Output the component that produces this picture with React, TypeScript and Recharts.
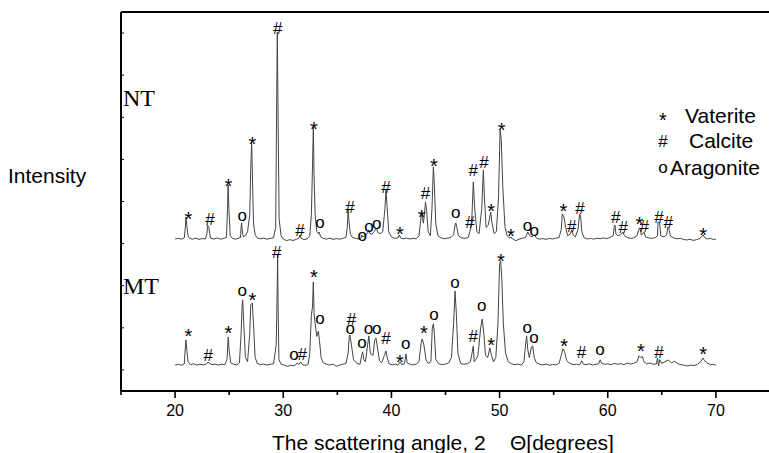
import React from 'react';
import { ComposedChart, Line, Scatter, XAxis, YAxis, ReferenceLine } from 'recharts';

// Relative intensity (arbitrary units) vs scattering angle 2θ (degrees)
const NT_POINTS: [number, number][] = [
  [20.0, 5], [20.3, 8], [20.6, 4], [20.85, 10], [20.95, 60], [21.0, 109], [21.08, 70], [21.2, 20], [21.35, 8], [21.6, 4],
  [21.9, 9], [22.2, 3], [22.5, 7], [22.8, 5], [22.95, 30], [23.0, 71], [23.12, 65], [23.2, 30], [23.3, 8], [23.6, 5],
  [23.9, 10], [24.2, 4], [24.5, 8], [24.75, 12], [24.85, 150], [24.9, 261], [24.98, 140], [25.1, 20], [25.3, 8], [25.6, 4],
  [25.9, 10], [26.05, 12], [26.1, 60], [26.15, 81], [26.2, 50], [26.3, 15], [26.5, 20], [26.7, 40], [26.9, 120], [27.0, 350],
  [27.08, 466], [27.15, 300], [27.25, 80], [27.4, 25], [27.6, 10], [27.9, 6], [28.2, 9], [28.5, 4], [28.8, 8], [29.1, 10],
  [29.3, 60], [29.4, 700], [29.45, 988], [29.52, 600], [29.62, 100], [29.8, 20], [30.0, 5], [30.3, -3], [30.6, 2], [30.9, -2],
  [31.2, 3], [31.45, 10], [31.55, 24], [31.65, 8], [31.9, 2], [32.2, 5], [32.45, 20], [32.6, 120], [32.72, 380], [32.78, 537],
  [32.85, 300], [32.95, 120], [33.1, 40], [33.25, 30], [33.33, 38], [33.45, 15], [33.7, 8], [34.0, 4], [34.3, 9], [34.6, 3],
  [34.9, 7], [35.2, 4], [35.5, 8], [35.8, 12], [35.92, 60], [36.0, 143], [36.08, 90], [36.2, 30], [36.4, 12], [36.7, 8],
  [37.0, 5], [37.2, 10], [37.25, 24], [37.35, 15], [37.6, 20], [37.8, 35], [37.9, 48], [38.0, 30], [38.2, 28], [38.4, 40],
  [38.6, 57], [38.75, 35], [38.95, 30], [39.2, 40], [39.4, 150], [39.5, 238], [39.6, 160], [39.75, 40], [40.0, 15], [40.3, 8],
  [40.6, 10], [40.73, 24], [40.85, 10], [41.1, 6], [41.4, 9], [41.7, 5], [42.0, 8], [42.3, 6], [42.55, 20], [42.7, 90],
  [42.8, 133], [42.95, 80], [43.05, 120], [43.15, 181], [43.25, 140], [43.4, 40], [43.6, 20], [43.75, 150], [43.88, 347], [43.98, 250],
  [44.1, 80], [44.3, 20], [44.6, 10], [44.9, 6], [45.2, 9], [45.5, 12], [45.75, 25], [45.88, 70], [45.95, 81], [46.05, 60],
  [46.2, 20], [46.5, 10], [46.8, 8], [47.1, 12], [47.25, 40], [47.33, 57], [47.45, 120], [47.57, 276], [47.7, 150], [47.9, 40],
  [48.1, 30], [48.35, 150], [48.5, 333], [48.6, 200], [48.75, 60], [48.95, 70], [49.18, 133], [49.3, 80], [49.5, 30], [49.7, 40],
  [49.9, 200], [50.05, 523], [50.15, 480], [50.3, 250], [50.5, 60], [50.7, 20], [50.9, 10], [51.05, 14], [51.2, 5], [51.5, -3],
  [51.8, 4], [52.1, 8], [52.4, 12], [52.6, 38], [52.8, 20], [53.0, 15], [53.2, 24], [53.4, 10], [53.7, 4], [54.0, 7],
  [54.3, 3], [54.6, 8], [54.9, 5], [55.2, 9], [55.5, 12], [55.7, 50], [55.8, 124], [55.95, 110], [56.1, 60], [56.3, 20],
  [56.55, 30], [56.66, 48], [56.8, 25], [57.0, 15], [57.25, 50], [57.4, 124], [57.5, 110], [57.6, 40], [57.8, 12], [58.1, 5],
  [58.4, 8], [58.7, 4], [59.0, 9], [59.3, 6], [59.6, 10], [59.9, 7], [60.2, 12], [60.5, 20], [60.6, 65], [60.67, 71],
  [60.75, 30], [60.95, 20], [61.2, 25], [61.4, 38], [61.55, 20], [61.8, 12], [62.1, 8], [62.4, 10], [62.7, 20], [62.9, 55],
  [62.98, 57], [63.1, 25], [63.25, 30], [63.35, 38], [63.5, 15], [63.8, 10], [64.1, 8], [64.4, 12], [64.6, 20], [64.65, 86],
  [64.8, 80], [64.9, 20], [65.2, 15], [65.45, 25], [65.55, 62], [65.65, 55], [65.8, 18], [66.1, 10], [66.4, 6], [66.7, 8],
  [67.0, 3], [67.3, 0], [67.6, 4], [67.9, -2], [68.2, 2], [68.5, 6], [68.7, 18], [68.83, 24], [68.95, 12], [69.2, 5],
  [69.5, 8], [69.8, 2], [70.0, 5],
];

const MT_POINTS: [number, number][] = [
  [20.0, 4], [20.3, 8], [20.6, 3], [20.85, 10], [20.95, 90], [21.0, 124], [21.08, 80], [21.2, 20], [21.4, 6], [21.7, 10],
  [22.0, 4], [22.3, 8], [22.6, 5], [22.9, 10], [23.05, 19], [23.15, 12], [23.4, 6], [23.7, 9], [24.0, 4], [24.3, 8],
  [24.6, 6], [24.8, 30], [24.88, 110], [24.92, 138], [25.0, 70], [25.15, 15], [25.4, 8], [25.7, 4], [25.95, 15], [26.1, 150],
  [26.2, 290], [26.25, 314], [26.35, 200], [26.5, 40], [26.7, 20], [26.9, 150], [27.0, 290], [27.14, 299], [27.25, 200], [27.4, 40],
  [27.6, 12], [27.9, 6], [28.2, 9], [28.5, 4], [28.8, 8], [29.1, 10], [29.35, 100], [29.45, 400], [29.48, 527], [29.52, 300],
  [29.6, 30], [29.8, 8], [30.1, 4], [30.4, -2], [30.7, 3], [31.0, 0], [31.3, 14], [31.45, 6], [31.6, 19], [31.8, 5],
  [32.1, 3], [32.3, 8], [32.45, 60], [32.6, 240], [32.7, 280], [32.78, 399], [32.85, 250], [32.95, 200], [33.1, 140], [33.25, 166],
  [33.35, 120], [33.5, 40], [33.7, 15], [34.0, 8], [34.3, 4], [34.6, 9], [34.9, -2], [35.2, 4], [35.5, 8], [35.8, 12],
  [36.0, 60], [36.1, 140], [36.17, 147], [36.3, 100], [36.5, 30], [36.8, 12], [37.1, 8], [37.25, 50], [37.34, 67], [37.45, 30],
  [37.6, 20], [37.8, 100], [37.92, 143], [38.05, 60], [38.3, 50], [38.45, 120], [38.57, 133], [38.7, 90], [38.9, 25], [39.1, 15],
  [39.35, 50], [39.5, 71], [39.6, 40], [39.8, 10], [40.1, 5], [40.4, 9], [40.6, 3], [40.8, 19], [40.95, 6], [41.2, 10],
  [41.35, 57], [41.45, 15], [41.7, 8], [42.0, 5], [42.3, 9], [42.55, 20], [42.75, 110], [42.85, 128], [43.0, 100], [43.2, 30],
  [43.4, 12], [43.65, 20], [43.78, 180], [43.88, 200], [43.98, 150], [44.1, 30], [44.4, 10], [44.7, 6], [45.0, 9], [45.3, 15],
  [45.55, 40], [45.75, 200], [45.88, 356], [46.0, 250], [46.15, 60], [46.4, 12], [46.7, 8], [47.0, 10], [47.3, 20], [47.45, 60],
  [47.57, 95], [47.65, 20], [47.8, 30], [48.0, 50], [48.25, 180], [48.4, 223], [48.55, 150], [48.7, 50], [48.9, 40], [49.1, 86],
  [49.25, 50], [49.45, 20], [49.65, 40], [49.85, 200], [50.0, 480], [50.1, 499], [50.2, 420], [50.35, 200], [50.55, 60], [50.8, 20],
  [51.1, 10], [51.4, 6], [51.7, 9], [52.0, 4], [52.25, 20], [52.4, 100], [52.5, 143], [52.6, 80], [52.75, 40], [52.95, 90],
  [53.06, 95], [53.2, 40], [53.4, 15], [53.7, 8], [54.0, 5], [54.3, 9], [54.6, 3], [54.9, 7], [55.2, 5], [55.5, 12],
  [55.7, 50], [55.85, 81], [56.0, 70], [56.2, 25], [56.5, 12], [56.8, 6], [57.1, 9], [57.4, 5], [57.6, 24], [57.75, 8],
  [58.0, 6], [58.3, 10], [58.6, 4], [58.9, 8], [59.15, 10], [59.3, 29], [59.45, 12], [59.7, 8], [60.0, 10], [60.3, 6],
  [60.6, 12], [60.9, 8], [61.2, 11], [61.5, 6], [61.8, 14], [62.1, 9], [62.4, 12], [62.7, 20], [62.9, 48], [63.05, 40],
  [63.2, 45], [63.35, 20], [63.6, 10], [63.9, 14], [64.2, 8], [64.5, 10], [64.6, 38], [64.7, 0], [64.8, 30], [65.0, 12],
  [65.3, 20], [65.6, 28], [65.9, 15], [66.2, 22], [66.5, 10], [66.8, 6], [67.1, 3], [67.4, 0], [67.7, 4], [68.0, 2],
  [68.3, 8], [68.6, 20], [68.8, 38], [68.95, 25], [69.2, 14], [69.5, 6], [69.8, 8], [70.0, 2],
];

// Phase markers: [angle, intensity at marker, symbol]  (* Vaterite, # Calcite, o Aragonite)
const NT_MARKS: [number, number, string][] = [
  [21.22, 119, '*'], [23.23, 98, '#'], [24.92, 277, '*'], [26.21, 111, 'o'], [27.14, 478, '*'], [29.48, 1005, '#'],
  [31.55, 48, '#'], [32.84, 549, '*'], [33.4, 79, 'o'], [36.17, 158, '#'], [37.31, 19, 'o'], [37.93, 60, 'o'],
  [38.64, 76, 'o'], [39.5, 253, '#'], [40.79, 52, '*'], [42.8, 130, '*'], [43.16, 225, '#'], [43.93, 372, '*'],
  [45.94, 127, 'o'], [47.26, 87, '#'], [47.57, 333, '#'], [48.56, 372, '#'], [49.21, 158, '*'], [50.19, 546, '*'],
  [51.05, 40, '*'], [52.59, 63, 'o'], [53.21, 40, 'o'], [55.89, 158, '*'], [56.66, 68, '#'], [57.43, 150, '#'],
  [60.73, 111, '#'], [61.44, 63, '#'], [62.92, 98, '*'], [63.38, 68, '#'], [64.74, 111, '#'], [65.6, 87, '#'],
  [68.83, 44, '*'],
];

const MT_MARKS: [number, number, string][] = [
  [21.22, 163, '*'], [23.07, 52, '#'], [24.92, 179, '*'], [26.21, 353, 'o'], [27.14, 334, '*'], [29.4, 543, '#'],
  [31.0, 49, 'o'], [31.76, 56, '#'], [32.84, 443, '*'], [33.4, 222, 'o'], [36.3, 222, '#'], [36.2, 171, 'o'],
  [37.27, 108, 'o'], [37.89, 171, 'o'], [38.64, 171, 'o'], [39.5, 134, '#'], [40.79, 40, '*'], [41.32, 100, 'o'],
  [43.01, 179, '*'], [43.93, 238, 'o'], [45.88, 393, 'o'], [47.57, 144, '#'], [48.35, 282, 'o'], [49.21, 119, '*'],
  [50.13, 519, '*'], [52.56, 176, 'o'], [53.18, 131, 'o'], [55.98, 115, '*'], [57.58, 65, '#'], [59.28, 71, 'o'],
  [63.07, 92, '*'], [64.74, 65, '#'], [68.83, 76, '*'],
];

const NT_OFFSET = 717;
const MT_OFFSET = 119;

const X_TICKS = [15, 20, 25, 30, 35, 40, 45, 50, 55, 60, 65, 70, 75];
const Y_TICKS = [100, 200, 300, 400, 500, 600, 700, 800, 900, 1000, 1100, 1200, 1300, 1400, 1500, 1600, 1700];

const LEGEND_ITEMS: [string, string][] = [['*', 'Vaterite'], ['#', 'Calcite'], ['o', 'Aragonite']];

const ntData = NT_POINTS.map(([x, v]) => ({ x, y: v + NT_OFFSET }));
const mtData = MT_POINTS.map(([x, v]) => ({ x, y: v + MT_OFFSET }));
const ntMarks = NT_MARKS.map(([x, v, s]) => ({ x, y: v + NT_OFFSET, s }));
const mtMarks = MT_MARKS.map(([x, v, s]) => ({ x, y: v + MT_OFFSET, s }));

const SANS = 'Liberation Sans, Arial, Helvetica, sans-serif';
const SERIF = 'Liberation Serif, Times New Roman, serif';

const symSize = (s: string) => (s === '*' ? 20 : 17);
const symOffset = (s: string) => (s === '*' ? 11.5 : s === '#' ? 6 : 4.5);

const Sym = ({ x, y, s }: { x: number; y: number; s: string }) => (
  <text x={x} y={y + symOffset(s)} textAnchor="middle" fontFamily={SANS} fontSize={symSize(s)} fill="#000">
    {s}
  </text>
);

const MarkShape = (props: any) => {
  const { cx, cy, payload } = props;
  if (cx == null || cy == null) return null;
  return <Sym x={cx} y={cy} s={payload.s} />;
};

const XTick = (props: any) => {
  const { x, y, payload } = props;
  const major = payload.value % 10 === 0;
  return (
    <g>
      <line x1={x} x2={x} y1={y} y2={y + (major ? 7 : 4)} stroke="#000" strokeWidth={1.6} />
      {major && (
        <text x={x} y={y + 14} dy="0.71em" textAnchor="middle" fontFamily={SANS} fontSize={16} fill="#000">
          {payload.value}
        </text>
      )}
    </g>
  );
};

const YTick = (props: any) => {
  const { x, y } = props;
  return <line x1={x} x2={x + 3} y1={y} y2={y} stroke="#000" strokeWidth={1} />;
};

export default function App() {
  return (
    <div style={{ position: 'absolute', left: 0, top: 0, width: 769, height: 453, overflow: 'hidden', background: '#fff' }}>
      <ComposedChart width={780} height={453} margin={{ top: 12, right: 10, bottom: 32, left: 120 }}>
        <XAxis
          type="number"
          dataKey="x"
          domain={[15, 75]}
          ticks={X_TICKS}
          allowDataOverflow
          height={30}
          tickSize={0}
          tickMargin={0}
          axisLine={{ stroke: '#000', strokeWidth: 2 }}
          tickLine={false}
          tick={<XTick />}
        />
        <YAxis
          type="number"
          domain={[0, 1800]}
          ticks={Y_TICKS}
          allowDataOverflow
          width={1}
          tickSize={0}
          tickMargin={0}
          axisLine={{ stroke: '#000', strokeWidth: 2 }}
          tickLine={false}
          tick={<YTick />}
        />
        <ReferenceLine y={1800} stroke="#000" strokeWidth={2} />
        <Line data={ntData} dataKey="y" type="linear" stroke="#444" strokeWidth={1} dot={false} isAnimationActive={false} />
        <Line data={mtData} dataKey="y" type="linear" stroke="#444" strokeWidth={1} dot={false} isAnimationActive={false} />
        <Scatter data={ntMarks} dataKey="y" shape={<MarkShape />} isAnimationActive={false} />
        <Scatter data={mtMarks} dataKey="y" shape={<MarkShape />} isAnimationActive={false} />
      </ComposedChart>
      <svg width={769} height={453} style={{ position: 'absolute', left: 0, top: 0, pointerEvents: 'none' }}>
        <text x={8} y={182.5} fontFamily={SANS} fontSize={21} fill="#000">Intensity</text>
        <text x={123} y={105.5} fontFamily={SERIF} fontSize={24} fill="#000">NT</text>
        <text x={123} y={293.5} fontFamily={SERIF} fontSize={24} fill="#000">MT</text>
        <text x={272} y={450} fontFamily={SANS} fontSize={21} fill="#000">The scattering angle, 2</text>
        <text x={510} y={450} fontFamily={SANS} fontSize={21} fill="#000">Θ[degrees]</text>
        {LEGEND_ITEMS.map(([sym, name], i) => {
          const cy = [115.5, 141, 168][i];
          return (
            <g key={name}>
              <Sym x={663} y={cy} s={sym} />
              <text x={i === 2 ? 670 : i === 1 ? 689 : 685} y={cy + 7} fontFamily={SANS} fontSize={21} fill="#000">{name}</text>
            </g>
          );
        })}
      </svg>
    </div>
  );
}
